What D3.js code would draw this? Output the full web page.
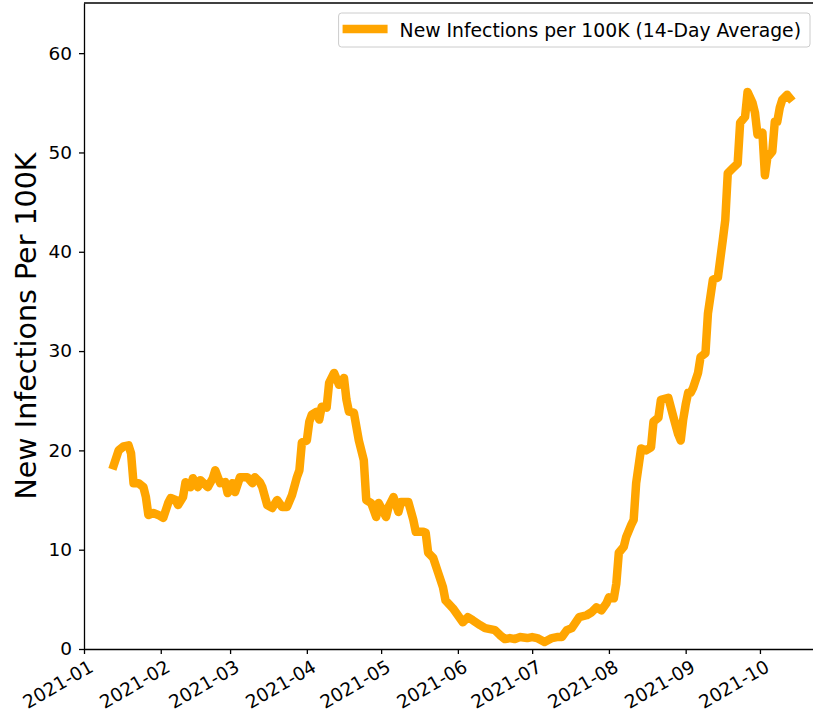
<!DOCTYPE html>
<html>
<head>
<meta charset="utf-8">
<script src="https://cdn.jsdelivr.net/npm/d3@7"></script>
<style>
  body { margin: 0; background: #fff; }
  svg { display: block; font-family: "DejaVu Sans", sans-serif; }
</style>
</head>
<body>
<div id="chart"></div>
<script>
// Data (14-day average, new infections per 100K)
const dates = [
  "2021-01-13","2021-01-15","2021-01-17","2021-01-19","2021-01-20","2021-01-21","2021-01-23","2021-01-25","2021-01-26","2021-01-27",
  "2021-01-29","2021-01-31","2021-02-02","2021-02-04","2021-02-05","2021-02-07","2021-02-08","2021-02-10","2021-02-11","2021-02-13",
  "2021-02-14","2021-02-16","2021-02-17","2021-02-20","2021-02-22","2021-02-23","2021-02-25","2021-02-27","2021-02-28","2021-03-02",
  "2021-03-03","2021-03-05","2021-03-08","2021-03-10","2021-03-11","2021-03-13","2021-03-14","2021-03-16","2021-03-18","2021-03-20",
  "2021-03-22","2021-03-24","2021-03-26","2021-03-28","2021-03-29","2021-03-30","2021-04-01","2021-04-02","2021-04-03","2021-04-05",
  "2021-04-06","2021-04-07","2021-04-09","2021-04-10","2021-04-12","2021-04-14","2021-04-16","2021-04-17","2021-04-18","2021-04-20",
  "2021-04-22","2021-04-24","2021-04-25","2021-04-27","2021-04-29","2021-04-30","2021-05-03","2021-05-04","2021-05-06","2021-05-08",
  "2021-05-09","2021-05-12","2021-05-14","2021-05-15","2021-05-18","2021-05-19","2021-05-20","2021-05-22","2021-05-24","2021-05-26",
  "2021-05-27","2021-05-30","2021-06-01","2021-06-03","2021-06-05","2021-06-07","2021-06-10","2021-06-12","2021-06-16","2021-06-18",
  "2021-06-20","2021-06-22","2021-06-24","2021-06-26","2021-06-29","2021-07-01","2021-07-03","2021-07-06","2021-07-09","2021-07-11",
  "2021-07-13","2021-07-15","2021-07-17","2021-07-20","2021-07-23","2021-07-25","2021-07-27","2021-07-29","2021-07-31","2021-08-01",
  "2021-08-03","2021-08-04","2021-08-05","2021-08-07","2021-08-08","2021-08-10","2021-08-11","2021-08-12","2021-08-14","2021-08-16",
  "2021-08-18","2021-08-19","2021-08-21","2021-08-22","2021-08-25","2021-08-27","2021-08-29","2021-08-30","2021-08-31","2021-09-01",
  "2021-09-02","2021-09-03","2021-09-04","2021-09-06","2021-09-07","2021-09-09","2021-09-10","2021-09-12","2021-09-14","2021-09-16",
  "2021-09-17","2021-09-18","2021-09-20","2021-09-22","2021-09-23","2021-09-25","2021-09-26","2021-09-28","2021-09-29","2021-09-30",
  "2021-10-02","2021-10-03","2021-10-04","2021-10-06","2021-10-07","2021-10-08","2021-10-09","2021-10-10","2021-10-12","2021-10-13"
];
const infections = [
  18.5, 20.0, 20.4, 20.5, 19.7, 16.7, 16.7, 16.3, 15.3, 13.5,
  13.7, 13.5, 13.2, 14.7, 15.2, 15.0, 14.5, 15.3, 16.8, 16.3,
  17.2, 16.3, 17.0, 16.3, 17.2, 18.0, 16.7, 16.8, 15.7, 16.7,
  15.8, 17.3, 17.3, 16.7, 17.3, 16.8, 16.3, 14.5, 14.2, 15.0,
  14.3, 14.3, 15.5, 17.3, 18.0, 20.8, 21.0, 22.9, 23.6, 23.9,
  23.1, 24.4, 24.3, 26.8, 27.8, 26.6, 27.3, 25.1, 23.9, 23.8,
  21.0, 19.0, 15.0, 14.7, 13.3, 14.7, 13.3, 14.3, 15.3, 13.8,
  14.8, 14.8, 13.0, 11.8, 11.8, 11.7, 9.7, 9.2, 7.7, 6.2,
  4.9, 4.1, 3.4, 2.7, 3.2, 2.9, 2.4, 2.1, 1.9, 1.4,
  1.0, 1.1, 1.0, 1.2, 1.1, 1.2, 1.1, 0.7, 1.1, 1.2,
  1.2, 1.9, 2.1, 3.2, 3.4, 3.7, 4.2, 3.9, 4.6, 5.2,
  5.1, 6.6, 9.7, 10.3, 11.3, 12.5, 13.0, 16.7, 20.2, 20.0,
  20.3, 22.9, 23.3, 25.1, 25.3, 23.4, 21.6, 21.0, 23.1, 24.6,
  25.8, 25.8, 26.3, 27.8, 29.4, 29.8, 33.8, 37.2, 37.4, 41.2,
  43.2, 47.9, 48.4, 48.9, 53.0, 53.6, 56.1, 55.0, 54.0, 51.8,
  52.0, 47.7, 49.5, 50.1, 53.1, 53.1, 54.5, 55.3, 55.8, 55.5
];
const yTicks = [0, 10, 20, 30, 40, 50, 60];
const monthTicks = ["2021-01","2021-02","2021-03","2021-04","2021-05","2021-06","2021-07","2021-08","2021-09","2021-10"];
const seriesLabel = "New Infections per 100K (14-Day Average)";
const yLabel = "New Infections Per 100K";

const svgWidth = 813;
const svgHeight = 719;
const margin = { top: 3, right: -2, bottom: 70, left: 84 };
const width = svgWidth - margin.left - margin.right;
const height = svgHeight - margin.top - margin.bottom;

const parseDay = d3.timeParse("%Y-%m-%d");
const parseMonth = d3.timeParse("%Y-%m");
const data = dates.map((d, i) => ({ date: parseDay(d), value: infections[i] }));

const svg = d3.select("#chart")
  .append("svg")
  .attr("width", svgWidth)
  .attr("height", svgHeight);

const chartGroup = svg.append("g")
  .attr("transform", `translate(${margin.left}, ${margin.top})`);

// about 2.476 px per day in the reference
const dayMs = 86400000;
const xStart = new Date(2021, 0, 1);
const xEnd = new Date(xStart.getTime() + (width / 2.476) * dayMs);

const xScale = d3.scaleTime()
  .domain([xStart, xEnd])
  .range([0, width]);

const yScale = d3.scaleLinear()
  .domain([0, 65.05])
  .range([height, 0]);

// line
const line = d3.line()
  .x(d => xScale(d.date))
  .y(d => yScale(d.value));

chartGroup.append("path")
  .datum(data)
  .attr("fill", "none")
  .attr("stroke", "#FFA500")
  .attr("stroke-width", 8.5)
  .attr("stroke-linejoin", "round")
  .attr("stroke-linecap", "square")
  .attr("d", line);

// axes
const bottomAxis = d3.axisBottom(xScale)
  .tickValues(monthTicks.map(parseMonth))
  .tickFormat(d3.timeFormat("%Y-%m"))
  .tickSize(5)
  .tickSizeOuter(0);

const leftAxis = d3.axisLeft(yScale)
  .tickValues(yTicks)
  .tickSize(5)
  .tickSizeOuter(0);

const xAxisG = chartGroup.append("g")
  .attr("transform", `translate(0, ${height})`)
  .call(bottomAxis);

xAxisG.selectAll("text")
  .attr("x", 0)
  .attr("y", 0)
  .attr("dy", "0.78em")
  .attr("text-anchor", "end")
  .attr("transform", "translate(3, 9) rotate(-30)");

const yAxisG = chartGroup.append("g")
  .call(leftAxis);

yAxisG.selectAll("text").attr("x", -12);

[xAxisG, yAxisG].forEach(g => {
  g.selectAll("text")
    .attr("font-family", "DejaVu Sans, sans-serif")
    .attr("font-size", "18.5px")
    .attr("fill", "#000");
  g.selectAll(".tick line").attr("stroke", "#000").attr("stroke-width", 1.3);
  g.select(".domain").attr("stroke", "#000").attr("stroke-width", 1.3);
});

// top spine
chartGroup.append("line")
  .attr("x1", 0).attr("x2", width)
  .attr("y1", 0).attr("y2", 0)
  .attr("stroke", "#000")
  .attr("stroke-width", 1.3);

// y label
chartGroup.append("text")
  .attr("transform", `translate(${-margin.left + 36}, ${height / 2}) rotate(-90)`)
  .attr("text-anchor", "middle")
  .attr("font-size", "28.5px")
  .attr("fill", "#000")
  .text(yLabel);

// legend
const legend = svg.append("g");
const legendBox = legend.append("rect")
  .attr("fill", "#fff")
  .attr("fill-opacity", 0.8)
  .attr("stroke", "#ccc")
  .attr("stroke-width", 1)
  .attr("rx", 3);

const legendText = legend.append("text")
  .attr("font-size", "18.8px")
  .attr("fill", "#000")
  .text(seriesLabel);

const textLen = legendText.node().getComputedTextLength();
const boxRight = 810;
const textX = boxRight - 9 - textLen;
legendText.attr("x", textX).attr("y", 36.5);

legend.append("line")
  .attr("x1", textX - 57).attr("x2", textX - 12)
  .attr("y1", 29).attr("y2", 29)
  .attr("stroke", "#FFA500")
  .attr("stroke-width", 8.5);

legendBox
  .attr("x", textX - 61)
  .attr("y", 13)
  .attr("width", boxRight - (textX - 61))
  .attr("height", 34);
</script>
</body>
</html>
